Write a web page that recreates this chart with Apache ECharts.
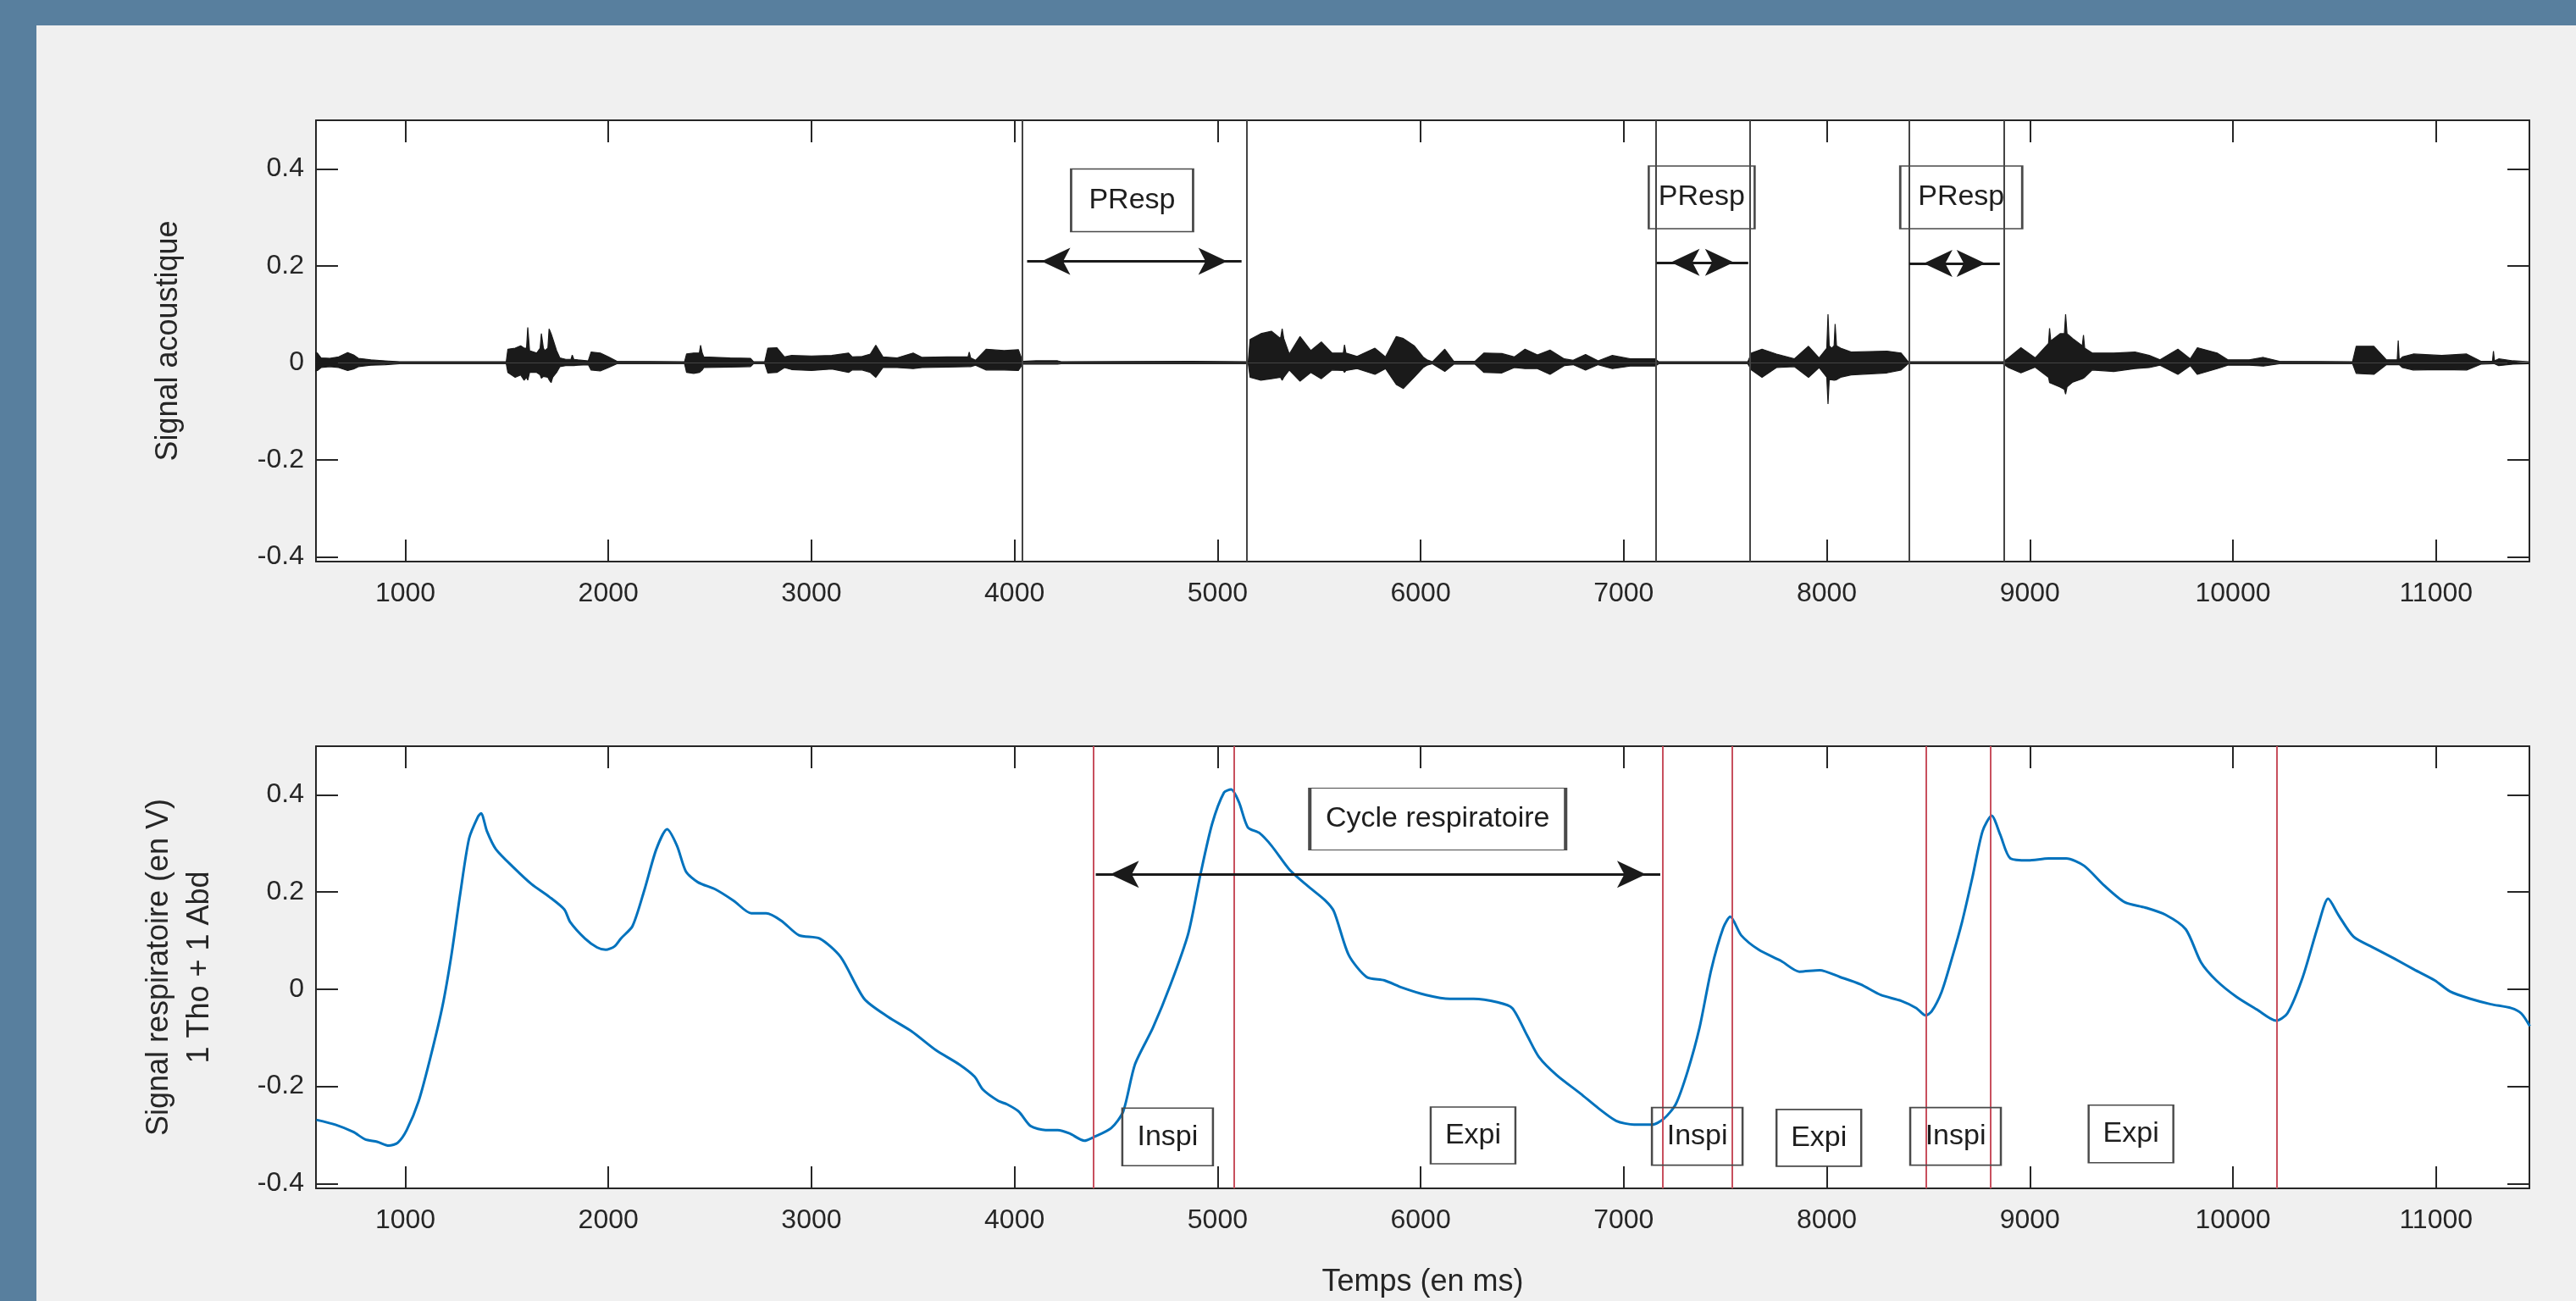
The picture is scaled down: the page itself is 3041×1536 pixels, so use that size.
<!DOCTYPE html>
<html><head><meta charset="utf-8">
<script src="https://cdn.jsdelivr.net/npm/echarts@6/dist/echarts.min.js"></script>
<style>
html,body{margin:0;padding:0;width:3041px;height:1536px;background:#587f9e;overflow:hidden}
#c{position:absolute;left:43px;top:30px;width:2998px;height:1506px;background:#f0f0f0}
</style></head><body><div id="c"></div>
<script>
// ---- axis ranges ----
const xRange = [560, 11460];
const yRange = [-0.41, 0.5];

// ---- acoustic signal envelope (ms, upper, lower) ----
const acousticTime = [550,567,585,628,672,716,745,769,830,901,971,1497,1505,1541,1568,1585,1597,1603,1612,1647,1664,1670,1680,1687,1702,1708,1718,1726,1745,1761,1790,1816,1822,1830,1850,1901,1915,1960,2000,2042,2375,2385,2420,2448,2454,2462,2470,2600,2700,2715,2770,2785,2830,2867,2902,3000,3100,3183,3201,3250,3290,3317,3352,3422,3501,3545,3668,3771,3777,3784,3808,3861,3949,4019,4040,4107,4212,4230,4870,5151,5160,5213,5265,5310,5318,5326,5353,5406,5459,5511,5564,5619,5625,5632,5687,5775,5827,5880,5915,5968,6012,6031,6058,6119,6163,6268,6312,6400,6461,6514,6575,6637,6707,6751,6812,6874,6944,7032,7155,7172,7611,7629,7681,7752,7840,7910,7962,8000,8006,8012,8024,8036,8041,8048,8068,8120,8296,8366,8401,8868,8895,8956,9026,9092,9097,9103,9149,9170,9176,9183,9211,9258,9264,9270,9307,9413,9518,9588,9641,9729,9790,9825,9922,9975,10080,10150,10229,10589,10607,10694,10756,10809,10814,10819,10835,10888,11028,11151,11221,11278,11283,11288,11309,11379,11458];
const acousticUpper = [0.022,0.02,0.01,0.009,0.012,0.021,0.016,0.009,0.006,0.004,0.002,0.002,0.028,0.03,0.035,0.03,0.03,0.073,0.025,0.02,0.03,0.06,0.03,0.025,0.03,0.07,0.06,0.05,0.025,0.01,0.007,0.007,0.016,0.007,0.006,0.004,0.022,0.02,0.012,0.003,0.002,0.018,0.02,0.02,0.036,0.02,0.012,0.01,0.009,0.002,0.002,0.03,0.031,0.012,0.015,0.014,0.015,0.02,0.012,0.013,0.018,0.036,0.012,0.01,0.02,0.011,0.012,0.012,0.022,0.01,0.005,0.028,0.025,0.027,0.003,0.004,0.004,0.002,0.003,0.002,0.048,0.06,0.065,0.05,0.07,0.05,0.018,0.054,0.025,0.043,0.02,0.02,0.037,0.02,0.013,0.03,0.012,0.054,0.05,0.035,0.012,0.006,0.002,0.028,0.003,0.003,0.02,0.019,0.012,0.028,0.016,0.026,0.008,0.005,0.017,0.004,0.015,0.008,0.008,0.002,0.002,0.02,0.028,0.018,0.008,0.034,0.01,0.03,0.1,0.035,0.03,0.035,0.08,0.035,0.03,0.022,0.024,0.02,0.002,0.002,0.01,0.031,0.01,0.04,0.071,0.045,0.06,0.06,0.1,0.06,0.05,0.035,0.057,0.03,0.02,0.02,0.022,0.015,0.006,0.028,0.008,0.031,0.02,0.006,0.006,0.011,0.003,0.002,0.034,0.034,0.006,0.006,0.046,0.006,0.012,0.018,0.015,0.018,0.003,0.003,0.024,0.004,0.008,0.004,0.002];
const acousticLower = [-0.018,-0.016,-0.01,-0.008,-0.01,-0.016,-0.013,-0.008,-0.005,-0.004,-0.002,-0.002,-0.02,-0.03,-0.025,-0.036,-0.03,-0.036,-0.02,-0.02,-0.025,-0.032,-0.028,-0.025,-0.03,-0.035,-0.041,-0.03,-0.02,-0.008,-0.006,-0.006,-0.006,-0.006,-0.005,-0.004,-0.015,-0.017,-0.01,-0.002,-0.002,-0.02,-0.022,-0.02,-0.021,-0.015,-0.01,-0.009,-0.008,-0.002,-0.002,-0.021,-0.02,-0.01,-0.014,-0.016,-0.013,-0.02,-0.015,-0.015,-0.02,-0.03,-0.01,-0.01,-0.012,-0.01,-0.009,-0.008,-0.008,-0.008,-0.005,-0.015,-0.015,-0.016,-0.003,-0.003,-0.003,-0.002,-0.002,-0.002,-0.03,-0.036,-0.033,-0.03,-0.036,-0.03,-0.015,-0.038,-0.02,-0.033,-0.015,-0.016,-0.02,-0.016,-0.012,-0.024,-0.012,-0.045,-0.053,-0.03,-0.01,-0.005,-0.002,-0.018,-0.003,-0.003,-0.02,-0.021,-0.01,-0.012,-0.012,-0.024,-0.006,-0.004,-0.015,-0.004,-0.012,-0.007,-0.007,-0.002,-0.002,-0.015,-0.03,-0.01,-0.008,-0.03,-0.01,-0.03,-0.085,-0.035,-0.035,-0.036,-0.038,-0.035,-0.03,-0.025,-0.021,-0.015,-0.002,-0.002,-0.01,-0.021,-0.009,-0.03,-0.041,-0.04,-0.05,-0.055,-0.065,-0.05,-0.04,-0.033,-0.033,-0.03,-0.015,-0.018,-0.012,-0.01,-0.005,-0.024,-0.006,-0.024,-0.012,-0.005,-0.005,-0.007,-0.002,-0.002,-0.022,-0.024,-0.004,-0.004,-0.004,-0.004,-0.01,-0.015,-0.014,-0.015,-0.003,-0.002,-0.002,-0.002,-0.006,-0.003,-0.002];

// ---- respiratory signal (ms, volts) ----
const respTime = [562,656,744,802,861,919,963,1007,1066,1124,1183,1227,1271,1314,1358,1373,1402,1446,1534,1622,1709,1783,1812,1885,1944,1987,2030,2061,2119,2178,2236,2289,2338,2382,2441,2529,2617,2704,2777,2851,2938,3041,3144,3260,3377,3494,3611,3728,3803,3845,3920,3963,4021,4080,4153,4213,4271,4344,4388,4476,4535,4593,4681,4769,4856,4915,4973,5032,5067,5105,5149,5207,5266,5354,5442,5529,5573,5646,5734,5822,5910,6027,6144,6261,6378,6451,6524,6583,6670,6787,6875,6963,7051,7139,7197,7256,7314,7373,7431,7490,7525,7578,7665,7775,7865,7965,8065,8166,8266,8366,8441,8486,8516,8566,8616,8666,8716,8767,8812,8854,8904,8992,9092,9179,9267,9367,9467,9568,9668,9768,9843,9918,10018,10118,10213,10268,10344,10419,10469,10519,10594,10694,10794,10894,10994,11070,11170,11270,11370,11420,11462];
const respValue = [-0.269,-0.279,-0.294,-0.309,-0.314,-0.322,-0.316,-0.29,-0.23,-0.14,-0.035,0.07,0.198,0.31,0.355,0.362,0.325,0.288,0.25,0.216,0.19,0.164,0.138,0.104,0.086,0.081,0.088,0.104,0.13,0.205,0.288,0.329,0.295,0.242,0.22,0.205,0.182,0.156,0.156,0.141,0.111,0.104,0.066,-0.02,-0.057,-0.087,-0.125,-0.155,-0.18,-0.207,-0.23,-0.237,-0.252,-0.282,-0.29,-0.29,-0.297,-0.312,-0.305,-0.286,-0.252,-0.155,-0.08,0.01,0.115,0.235,0.34,0.405,0.411,0.385,0.333,0.321,0.295,0.246,0.213,0.183,0.16,0.07,0.025,0.018,0.003,-0.012,-0.02,-0.02,-0.027,-0.039,-0.095,-0.14,-0.177,-0.215,-0.245,-0.271,-0.279,-0.279,-0.267,-0.237,-0.17,-0.08,0.04,0.126,0.149,0.111,0.081,0.058,0.036,0.039,0.025,0.01,-0.012,-0.024,-0.039,-0.054,-0.046,-0.005,0.063,0.138,0.228,0.325,0.357,0.318,0.269,0.265,0.269,0.269,0.254,0.213,0.179,0.168,0.153,0.123,0.055,0.018,-0.016,-0.042,-0.065,-0.05,0.025,0.13,0.186,0.153,0.108,0.085,0.063,0.04,0.018,-0.005,-0.02,-0.031,-0.039,-0.05,-0.076];

// ---- annotations (data coordinates) ----
const pauseBounds = [4037, 5143, 7159, 7621, 8404, 8874];
const pauseLabel = 'PResp';
const pauseLabelX = [4579, 7384, 8662];
const pauseLabelY = [0.335, 0.341, 0.341];
const pauseArrowFrom = [4062, 7161, 8406];
const pauseArrowTo = [5118, 7613, 8852];
const pauseArrowY = [0.209, 0.207, 0.205];

const phaseBounds = [4388, 5082, 7191, 7534, 8487, 8804, 10214];
const phaseNames = ['Inspi', 'Expi', 'Inspi', 'Expi', 'Inspi', 'Expi'];
const phaseX = [4754, 6258, 7362, 7961, 8634, 9498];
const phaseY = [-0.304, -0.301, -0.303, -0.306, -0.303, -0.298];
const cycleLabel = 'Cycle respiratoire';
const cycleLabelX = 6084, cycleLabelY = 0.35;
const cycleArrowFrom = 4400, cycleArrowTo = 7180, cycleArrowY = 0.2365;

const xTitle = 'Temps (en ms)';
const yTitleTop = 'Signal acoustique';
const yTitleBottom = 'Signal respiratoire (en V)\n1 Tho + 1 Abd';

// ---- build ----
const FONT = "'Liberation Sans', Arial, Helvetica, sans-serif";
const AX = '#262626';
const zip = (a, b) => a.map((v, i) => [v, b[i]]);
const xFmt = v => (Math.abs(v % 1000) < 1e-6 ? String(v) : '');
const yFmt = v => { const k = Math.round(v / 0.2); if (Math.abs(v - k * 0.2) > 1e-6) return ''; return k === 0 ? '0' : (k * 0.2).toFixed(1); };

function xAx(grid, pos, withLabels, name) {
  return {
    type: 'value', gridIndex: grid, position: pos, min: xRange[0], max: xRange[1], splitNumber: 10,
    axisLine: { show: true, onZero: false, lineStyle: { color: AX, width: 2 } },
    axisTick: { show: true, inside: true, length: 26, lineStyle: { color: AX, width: 2 } },
    axisLabel: { show: withLabels, formatter: xFmt, fontSize: 32, color: AX, fontFamily: FONT, margin: 22 },
    splitLine: { show: false },
    name: name || '', nameLocation: 'middle', nameGap: 93,
    nameTextStyle: { fontSize: 36, color: AX, fontFamily: FONT }
  };
}
function yAx(grid, pos, withLabels, name, gap) {
  return {
    type: 'value', gridIndex: grid, position: pos, min: yRange[0], max: yRange[1], splitNumber: 5,
    axisLine: { show: true, onZero: false, lineStyle: { color: AX, width: 2 } },
    axisTick: { show: true, inside: true, length: 26, lineStyle: { color: AX, width: 2 } },
    axisLabel: { show: withLabels, formatter: yFmt, fontSize: 32, color: AX, fontFamily: FONT, margin: 14 },
    splitLine: { show: false },
    name: name || '', nameLocation: 'middle', nameGap: gap || 0,
    nameTextStyle: { fontSize: 36, color: AX, fontFamily: FONT, lineHeight: 48, align: 'center' }
  };
}
const boxStyle = { color: 'rgba(255,255,255,0)', borderColor: '#4a4a4a', borderWidth: 2 };
const boxLabel = { show: true, position: 'inside', fontSize: 34, color: '#1e1e1e', fontFamily: FONT, formatter: p => p.name };
const arrowLine = { color: '#1a1a1a', width: 3, type: 'solid' };
const headSize = [24, 34];
const headOffset = [[0, 17], [0, 17]];

const pauseBoxSizes = [[144, 74], [125, 74], [144, 74]];
const phaseBoxSizes = [[107, 68], [100, 67], [107, 68], [100, 67], [107, 68], [100, 68]];

const option = {
  animation: false,
  backgroundColor: 'transparent',
  grid: [
    { left: 330, right: 55, top: 112, height: 521, show: true, backgroundColor: '#fff', borderWidth: 0 },
    { left: 330, right: 55, top: 851, height: 522, show: true, backgroundColor: '#fff', borderWidth: 0 }
  ],
  xAxis: [xAx(0, 'bottom', true), xAx(0, 'top', false), xAx(1, 'bottom', true, xTitle), xAx(1, 'top', false)],
  yAxis: [yAx(0, 'left', true, yTitleTop, 150), yAx(0, 'right', false), yAx(1, 'left', true, yTitleBottom, 113), yAx(1, 'right', false)],
  series: [
    { type: 'line', xAxisIndex: 0, yAxisIndex: 0, data: zip(acousticTime, acousticUpper), showSymbol: false, silent: true,
      lineStyle: { color: '#1a1a1a', width: 1.2 }, areaStyle: { color: '#1a1a1a', opacity: 1 } },
    { type: 'line', xAxisIndex: 0, yAxisIndex: 0, data: zip(acousticTime, acousticLower), showSymbol: false, silent: true,
      lineStyle: { color: '#1a1a1a', width: 1.2 }, areaStyle: { color: '#1a1a1a', opacity: 1 } },
    { type: 'line', xAxisIndex: 0, yAxisIndex: 0, data: [], silent: true,
      markLine: { silent: true, symbol: 'none', label: { show: false },
        lineStyle: { color: '#444', width: 2, type: 'solid' },
        data: pauseBounds.map(v => ({ xAxis: v })) } },
    { type: 'line', xAxisIndex: 0, yAxisIndex: 0, data: [], silent: true,
      markLine: { silent: true, symbol: ['arrow', 'arrow'], symbolSize: headSize, symbolOffset: headOffset, label: { show: false },
        lineStyle: arrowLine,
        data: pauseArrowFrom.map((v, i) => [{ coord: [v, pauseArrowY[i]] }, { coord: [pauseArrowTo[i], pauseArrowY[i]] }]) },
      markPoint: { silent: true, symbol: 'rect', itemStyle: boxStyle, label: boxLabel,
        data: pauseLabelX.map((v, i) => ({ name: pauseLabel, coord: [v, pauseLabelY[i]], symbolSize: pauseBoxSizes[i] })) } },
    { type: 'line', xAxisIndex: 2, yAxisIndex: 2, data: zip(respTime, respValue), showSymbol: false, silent: true, smooth: 0.25,
      lineStyle: { color: '#0072BD', width: 3 } },
    { type: 'line', xAxisIndex: 2, yAxisIndex: 2, data: [], silent: true,
      markLine: { silent: true, symbol: 'none', label: { show: false },
        lineStyle: { color: '#c8505e', width: 2, type: 'solid' },
        data: phaseBounds.map(v => ({ xAxis: v })) } },
    { type: 'line', xAxisIndex: 2, yAxisIndex: 2, data: [], silent: true,
      markLine: { silent: true, symbol: ['arrow', 'arrow'], symbolSize: headSize, symbolOffset: headOffset, label: { show: false },
        lineStyle: arrowLine,
        data: [[{ coord: [cycleArrowFrom, cycleArrowY] }, { coord: [cycleArrowTo, cycleArrowY] }]] },
      markPoint: { silent: true, symbol: 'rect', itemStyle: boxStyle, label: boxLabel,
        data: [{ name: cycleLabel, coord: [cycleLabelX, cycleLabelY], symbolSize: [302, 73] }]
          .concat(phaseX.map((v, i) => ({ name: phaseNames[i], coord: [v, phaseY[i]], symbolSize: phaseBoxSizes[i] }))) } }
  ]
};
const chart = echarts.init(document.getElementById('c'), null, { renderer: 'canvas' });
chart.setOption(option);
</script></body></html>
